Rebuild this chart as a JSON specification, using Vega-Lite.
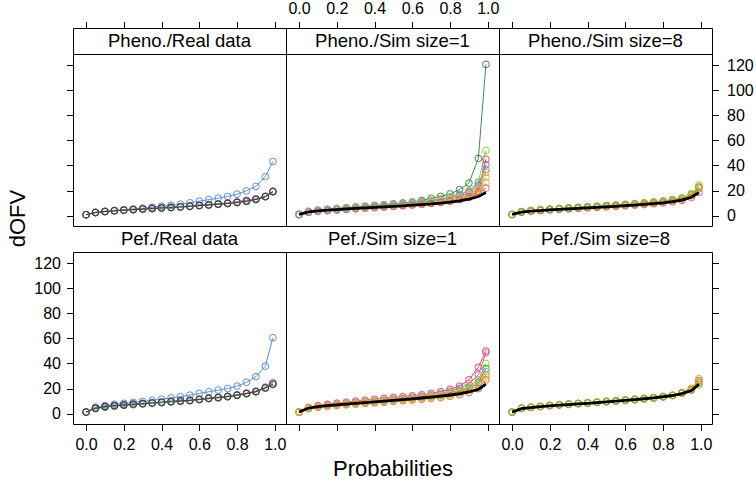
{
"$schema": "https://vega.github.io/schema/vega-lite/v6.json",
"padding": {"left": 6, "top": 0, "right": 0, "bottom": 0},
"background": "white",
"config": {
  "font": "Liberation Sans",
  "view": {"stroke": "black", "strokeWidth": 1},
  "axis": {"grid": false, "domain": false, "tickColor": "black", "tickSize": 6.5, "tickWidth": 1, "labelPadding": 6, "labelFontSize": 16, "labelColor": "black", "labelFont": "Liberation Sans", "labelFlush": false, "labelOverlap": false, "labelBound": false, "titleFont": "Liberation Sans", "titleFontSize": 22, "titleFontWeight": "normal", "titleColor": "black"}
},
"datasets": {
"pr": [
{"x":0,"a":0.8,"b":0.8,"c":0.8,"d":0.8},
{"x":0.05,"a":2.8,"b":2.6,"c":2.4,"d":2.5},
{"x":0.1,"a":3.6,"b":3.5,"c":3.2,"d":3.3},
{"x":0.15,"a":4.2,"b":4.1,"c":3.8,"d":3.9},
{"x":0.2,"a":4.7,"b":4.7,"c":4.3,"d":4.4},
{"x":0.25,"a":5.3,"b":5.2,"c":4.7,"d":4.8},
{"x":0.3,"a":6.0,"b":5.7,"c":5.2,"d":5.3},
{"x":0.35,"a":6.8,"b":6.1,"c":5.6,"d":5.7},
{"x":0.4,"a":7.5,"b":6.5,"c":6.0,"d":6.2},
{"x":0.45,"a":8.3,"b":6.9,"c":6.4,"d":6.6},
{"x":0.5,"a":9.2,"b":7.3,"c":6.8,"d":7.0},
{"x":0.55,"a":10.3,"b":7.8,"c":7.3,"d":7.5},
{"x":0.6,"a":11.6,"b":8.4,"c":7.9,"d":8.1},
{"x":0.65,"a":12.8,"b":8.9,"c":8.4,"d":8.6},
{"x":0.7,"a":14.0,"b":9.5,"c":9.0,"d":9.2},
{"x":0.75,"a":15.3,"b":10.2,"c":9.6,"d":9.8},
{"x":0.8,"a":17.2,"b":11.1,"c":10.4,"d":10.6},
{"x":0.85,"a":19.8,"b":12.4,"c":11.4,"d":11.6},
{"x":0.9,"a":23.3,"b":13.6,"c":12.8,"d":13.0},
{"x":0.95,"a":31.2,"b":15.6,"c":15.0,"d":15.2},
{"x":0.99,"a":43.2,"b":19.6,"c":19.0,"d":19.2}
],
"fr": [
{"x":0,"a":1.3,"b":1.3,"c":1.3,"d":1.3},
{"x":0.05,"a":5.3,"b":4.6,"c":4.0,"d":4.4},
{"x":0.1,"a":6.5,"b":5.8,"c":5.2,"d":5.6},
{"x":0.15,"a":7.6,"b":6.6,"c":6.0,"d":6.4},
{"x":0.2,"a":8.3,"b":7.2,"c":6.6,"d":7.0},
{"x":0.25,"a":9.0,"b":7.8,"c":7.2,"d":7.6},
{"x":0.3,"a":9.8,"b":8.3,"c":7.7,"d":8.1},
{"x":0.35,"a":10.7,"b":8.8,"c":8.2,"d":8.6},
{"x":0.4,"a":11.6,"b":9.3,"c":8.7,"d":9.1},
{"x":0.45,"a":12.6,"b":9.9,"c":9.3,"d":9.7},
{"x":0.5,"a":13.6,"b":10.4,"c":9.8,"d":10.2},
{"x":0.55,"a":14.8,"b":10.9,"c":10.3,"d":10.6},
{"x":0.6,"a":16.2,"b":11.7,"c":11.1,"d":11.4},
{"x":0.65,"a":17.5,"b":12.5,"c":11.9,"d":12.2},
{"x":0.7,"a":18.8,"b":13.2,"c":12.6,"d":12.9},
{"x":0.75,"a":20.0,"b":14.0,"c":13.4,"d":13.7},
{"x":0.8,"a":22.0,"b":15.1,"c":14.5,"d":14.8},
{"x":0.85,"a":25.0,"b":16.5,"c":15.8,"d":16.1},
{"x":0.9,"a":29.5,"b":18.0,"c":17.3,"d":17.6},
{"x":0.95,"a":37.9,"b":21.2,"c":20.3,"d":20.6},
{"x":0.99,"a":60.5,"b":24.8,"c":23.2,"d":23.6}
],
"p1": [
{"x":0,"k":1.0,"s1":1.0,"s2":1.0,"s3":0.8,"s4":1.0,"s5":1.0,"s6":1.0,"s7":0.9,"s8":0.9,"s9":1.0},
{"x":0.05,"k":3.0,"s1":3.5,"s2":3.3,"s3":2.6,"s4":3.1,"s5":3.0,"s6":3.2,"s7":3.0,"s8":2.8,"s9":3.1},
{"x":0.1,"k":3.8,"s1":4.5,"s2":4.2,"s3":3.4,"s4":4.0,"s5":3.9,"s6":4.1,"s7":3.8,"s8":3.6,"s9":4.0},
{"x":0.15,"k":4.4,"s1":5.2,"s2":4.9,"s3":4.0,"s4":4.6,"s5":4.5,"s6":4.7,"s7":4.4,"s8":4.2,"s9":4.6},
{"x":0.2,"k":4.9,"s1":5.8,"s2":5.5,"s3":4.5,"s4":5.2,"s5":5.1,"s6":5.3,"s7":4.9,"s8":4.7,"s9":5.2},
{"x":0.25,"k":5.4,"s1":6.4,"s2":6.1,"s3":5.0,"s4":5.7,"s5":5.6,"s6":5.8,"s7":5.4,"s8":5.2,"s9":5.7},
{"x":0.3,"k":5.9,"s1":7.0,"s2":6.6,"s3":5.5,"s4":6.2,"s5":6.1,"s6":6.3,"s7":5.9,"s8":5.7,"s9":6.2},
{"x":0.35,"k":6.3,"s1":7.6,"s2":7.2,"s3":6.0,"s4":6.7,"s5":6.6,"s6":6.8,"s7":6.4,"s8":6.1,"s9":6.8},
{"x":0.4,"k":6.7,"s1":8.2,"s2":7.8,"s3":6.4,"s4":7.3,"s5":7.1,"s6":7.4,"s7":6.9,"s8":6.6,"s9":7.4},
{"x":0.45,"k":7.1,"s1":8.8,"s2":8.4,"s3":6.9,"s4":7.9,"s5":7.6,"s6":7.9,"s7":7.4,"s8":7.1,"s9":8.0},
{"x":0.5,"k":7.5,"s1":9.5,"s2":9.0,"s3":7.4,"s4":8.5,"s5":8.2,"s6":8.5,"s7":7.9,"s8":7.6,"s9":8.6},
{"x":0.55,"k":7.9,"s1":10.2,"s2":9.7,"s3":7.9,"s4":9.1,"s5":8.8,"s6":9.1,"s7":8.5,"s8":8.1,"s9":9.3},
{"x":0.6,"k":8.4,"s1":11.0,"s2":10.5,"s3":8.5,"s4":9.8,"s5":9.5,"s6":9.8,"s7":9.1,"s8":8.7,"s9":10.0},
{"x":0.65,"k":8.9,"s1":12.2,"s2":11.3,"s3":9.1,"s4":10.6,"s5":10.2,"s6":10.5,"s7":9.8,"s8":9.3,"s9":10.8},
{"x":0.7,"k":9.4,"s1":13.8,"s2":12.3,"s3":9.8,"s4":11.5,"s5":11.1,"s6":11.4,"s7":10.6,"s8":10.0,"s9":11.8},
{"x":0.75,"k":10.1,"s1":15.4,"s2":13.5,"s3":10.6,"s4":12.6,"s5":12.1,"s6":12.4,"s7":11.5,"s8":10.8,"s9":13.0},
{"x":0.8,"k":10.8,"s1":17.3,"s2":15.0,"s3":11.6,"s4":14.0,"s5":13.4,"s6":13.7,"s7":12.6,"s8":11.7,"s9":14.6},
{"x":0.85,"k":11.8,"s1":20.8,"s2":17.0,"s3":13.0,"s4":15.8,"s5":15.0,"s6":15.2,"s7":14.0,"s8":12.8,"s9":16.8},
{"x":0.9,"k":13.2,"s1":26.0,"s2":20.0,"s3":15.0,"s4":18.5,"s5":17.5,"s6":17.2,"s7":16.0,"s8":14.5,"s9":19.5},
{"x":0.95,"k":15.3,"s1":45.6,"s2":27.0,"s3":19.0,"s4":24.0,"s5":22.0,"s6":21.0,"s7":20.0,"s8":17.5,"s9":26.0},
{"x":0.99,"k":18.5,"s1":120.5,"s2":52.0,"s3":45.0,"s4":40.5,"s5":34.5,"s6":30.6,"s7":26.5,"s8":22.0,"s9":37.0}
],
"p8": [
{"x":0,"k":1.0,"s1":1.0,"s2":1.0,"s3":1.0,"s4":0.9,"s5":1.0},
{"x":0.05,"k":2.8,"s1":3.3,"s2":3.1,"s3":3.0,"s4":2.7,"s5":3.2},
{"x":0.1,"k":3.6,"s1":4.2,"s2":4.0,"s3":3.9,"s4":3.5,"s5":4.1},
{"x":0.15,"k":4.1,"s1":4.8,"s2":4.6,"s3":4.4,"s4":4.0,"s5":4.7},
{"x":0.2,"k":4.6,"s1":5.3,"s2":5.1,"s3":4.9,"s4":4.5,"s5":5.2},
{"x":0.25,"k":5.1,"s1":5.8,"s2":5.6,"s3":5.4,"s4":5.0,"s5":5.7},
{"x":0.3,"k":5.5,"s1":6.3,"s2":6.0,"s3":5.8,"s4":5.4,"s5":6.2},
{"x":0.35,"k":5.9,"s1":6.7,"s2":6.5,"s3":6.2,"s4":5.8,"s5":6.6},
{"x":0.4,"k":6.3,"s1":7.2,"s2":6.9,"s3":6.7,"s4":6.2,"s5":7.1},
{"x":0.45,"k":6.7,"s1":7.6,"s2":7.3,"s3":7.1,"s4":6.6,"s5":7.5},
{"x":0.5,"k":7.1,"s1":8.1,"s2":7.8,"s3":7.5,"s4":7.0,"s5":8.0},
{"x":0.55,"k":7.5,"s1":8.6,"s2":8.3,"s3":8.0,"s4":7.4,"s5":8.4},
{"x":0.6,"k":8.0,"s1":9.1,"s2":8.8,"s3":8.5,"s4":7.9,"s5":8.9},
{"x":0.65,"k":8.5,"s1":9.7,"s2":9.3,"s3":9.0,"s4":8.4,"s5":9.5},
{"x":0.7,"k":9.0,"s1":10.3,"s2":9.9,"s3":9.6,"s4":8.9,"s5":10.1},
{"x":0.75,"k":9.6,"s1":11.0,"s2":10.6,"s3":10.2,"s4":9.5,"s5":10.8},
{"x":0.8,"k":10.3,"s1":11.8,"s2":11.3,"s3":10.9,"s4":10.2,"s5":11.6},
{"x":0.85,"k":11.2,"s1":12.8,"s2":12.3,"s3":11.9,"s4":11.0,"s5":12.6},
{"x":0.9,"k":12.4,"s1":14.2,"s2":13.6,"s3":13.2,"s4":12.2,"s5":14.0},
{"x":0.95,"k":14.7,"s1":17.5,"s2":16.5,"s3":16.0,"s4":14.5,"s5":17.0},
{"x":0.99,"k":18.5,"s1":24.5,"s2":23.0,"s3":21.5,"s4":18.5,"s5":22.5}
],
"f1": [
{"x":0,"k":1.3,"s1":1.5,"s2":1.3,"s3":1.2,"s4":1.2,"s5":1.3,"s6":1.2,"s7":1.1,"s8":1.3},
{"x":0.05,"k":4.5,"s1":5.0,"s2":4.8,"s3":4.5,"s4":4.4,"s5":4.6,"s6":4.3,"s7":4.0,"s8":4.4},
{"x":0.1,"k":5.6,"s1":6.5,"s2":6.0,"s3":5.7,"s4":5.6,"s5":5.7,"s6":5.4,"s7":5.1,"s8":5.5},
{"x":0.15,"k":6.4,"s1":7.5,"s2":6.9,"s3":6.5,"s4":6.4,"s5":6.5,"s6":6.2,"s7":5.9,"s8":6.3},
{"x":0.2,"k":7.1,"s1":8.4,"s2":7.6,"s3":7.2,"s4":7.1,"s5":7.2,"s6":6.9,"s7":6.5,"s8":7.0},
{"x":0.25,"k":7.7,"s1":9.2,"s2":8.3,"s3":7.9,"s4":7.7,"s5":7.8,"s6":7.5,"s7":7.1,"s8":7.6},
{"x":0.3,"k":8.3,"s1":10.0,"s2":8.9,"s3":8.5,"s4":8.3,"s5":8.4,"s6":8.1,"s7":7.6,"s8":8.2},
{"x":0.35,"k":8.9,"s1":10.8,"s2":9.6,"s3":9.1,"s4":8.9,"s5":9.0,"s6":8.7,"s7":8.2,"s8":8.8},
{"x":0.4,"k":9.5,"s1":11.5,"s2":10.2,"s3":9.8,"s4":9.6,"s5":9.6,"s6":9.3,"s7":8.7,"s8":9.4},
{"x":0.45,"k":10.1,"s1":12.2,"s2":10.9,"s3":10.4,"s4":10.2,"s5":10.2,"s6":9.9,"s7":9.2,"s8":10.0},
{"x":0.5,"k":10.6,"s1":12.9,"s2":11.6,"s3":11.1,"s4":10.8,"s5":10.9,"s6":10.5,"s7":9.8,"s8":10.6},
{"x":0.55,"k":11.2,"s1":13.6,"s2":12.3,"s3":11.8,"s4":11.5,"s5":11.5,"s6":11.1,"s7":10.3,"s8":11.2},
{"x":0.6,"k":11.8,"s1":14.3,"s2":13.1,"s3":12.5,"s4":12.2,"s5":12.2,"s6":11.8,"s7":10.9,"s8":11.9},
{"x":0.65,"k":12.5,"s1":15.1,"s2":14.0,"s3":13.3,"s4":13.0,"s5":13.0,"s6":12.5,"s7":11.5,"s8":12.6},
{"x":0.7,"k":13.2,"s1":16.2,"s2":15.0,"s3":14.2,"s4":13.9,"s5":13.8,"s6":13.3,"s7":12.2,"s8":13.4},
{"x":0.75,"k":14.0,"s1":17.6,"s2":16.3,"s3":15.3,"s4":14.9,"s5":14.8,"s6":14.2,"s7":13.0,"s8":14.3},
{"x":0.8,"k":14.9,"s1":19.5,"s2":18.0,"s3":16.7,"s4":16.2,"s5":16.0,"s6":15.3,"s7":13.9,"s8":15.5},
{"x":0.85,"k":15.9,"s1":22.0,"s2":20.3,"s3":18.6,"s4":18.0,"s5":17.6,"s6":16.8,"s7":15.1,"s8":17.0},
{"x":0.9,"k":17.3,"s1":27.0,"s2":24.0,"s3":21.5,"s4":20.5,"s5":20.0,"s6":19.0,"s7":16.9,"s8":19.3},
{"x":0.95,"k":19.3,"s1":37.0,"s2":31.0,"s3":27.0,"s4":25.0,"s5":24.5,"s6":23.0,"s7":20.0,"s8":23.5},
{"x":0.99,"k":23.5,"s1":50.0,"s2":48.5,"s3":40.0,"s4":36.0,"s5":33.5,"s6":30.8,"s7":27.0,"s8":29.0}
],
"f8": [
{"x":0,"k":1.3,"s1":1.3,"s2":1.3,"s3":1.3,"s4":1.2,"s5":1.2},
{"x":0.05,"k":4.0,"s1":4.5,"s2":4.3,"s3":4.4,"s4":4.1,"s5":4.2},
{"x":0.1,"k":4.9,"s1":5.3,"s2":5.1,"s3":5.2,"s4":4.9,"s5":5.0},
{"x":0.15,"k":5.6,"s1":6.0,"s2":5.8,"s3":5.9,"s4":5.6,"s5":5.7},
{"x":0.2,"k":6.2,"s1":6.8,"s2":6.5,"s3":6.6,"s4":6.3,"s5":6.4},
{"x":0.25,"k":6.8,"s1":7.4,"s2":7.1,"s3":7.2,"s4":6.9,"s5":7.0},
{"x":0.3,"k":7.3,"s1":7.9,"s2":7.7,"s3":7.7,"s4":7.4,"s5":7.5},
{"x":0.35,"k":7.8,"s1":8.3,"s2":8.2,"s3":8.2,"s4":7.9,"s5":8.0},
{"x":0.4,"k":8.3,"s1":8.8,"s2":8.7,"s3":8.7,"s4":8.4,"s5":8.5},
{"x":0.45,"k":8.9,"s1":9.4,"s2":9.2,"s3":9.2,"s4":8.9,"s5":9.0},
{"x":0.5,"k":9.5,"s1":10.0,"s2":9.8,"s3":9.7,"s4":9.4,"s5":9.5},
{"x":0.55,"k":10.0,"s1":10.5,"s2":10.3,"s3":10.2,"s4":9.9,"s5":10.0},
{"x":0.6,"k":10.6,"s1":11.2,"s2":10.9,"s3":10.8,"s4":10.5,"s5":10.6},
{"x":0.65,"k":11.2,"s1":11.8,"s2":11.5,"s3":11.4,"s4":11.1,"s5":11.2},
{"x":0.7,"k":11.9,"s1":12.4,"s2":12.2,"s3":12.0,"s4":11.7,"s5":11.8},
{"x":0.75,"k":12.6,"s1":13.0,"s2":12.8,"s3":12.7,"s4":12.4,"s5":12.5},
{"x":0.8,"k":13.5,"s1":13.8,"s2":13.7,"s3":13.5,"s4":13.3,"s5":13.4},
{"x":0.85,"k":14.5,"s1":14.8,"s2":14.8,"s3":14.5,"s4":14.4,"s5":14.5},
{"x":0.9,"k":16.0,"s1":16.5,"s2":16.9,"s3":16.3,"s4":16.6,"s5":16.2},
{"x":0.95,"k":18.4,"s1":19.5,"s2":20.3,"s3":19.0,"s4":19.0,"s5":18.8},
{"x":0.99,"k":23.4,"s1":25.5,"s2":28.0,"s3":24.5,"s4":26.5,"s5":23.0}
]
},
"columns": 3,
"spacing": 0,
"bounds": "flush",
"resolve": {"scale": {"x": "independent", "y": "independent", "color": "independent"}, "axis": {"x": "independent", "y": "independent"}},
"concat": [
{"width": 213, "height": 26, "data": {"values": [{"lab": "Pheno./Real data"}]},
 "mark": {"type": "text", "fontSize": 18.5, "baseline": "middle", "align": "center", "color": "black"},
 "encoding": {"text": {"field": "lab", "type": "nominal"},
  "x": {"datum": 0.495, "type": "quantitative", "scale": {"domain": [-0.0693, 1.0593], "nice": false, "zero": false}, "axis": {"orient": "top", "values": [0, 0.2, 0.4, 0.6, 0.8, 1], "labels": false, "title": null}}}},
{"width": 213, "height": 26, "data": {"values": [{"lab": "Pheno./Sim size=1"}]},
 "mark": {"type": "text", "fontSize": 18.5, "baseline": "middle", "align": "center", "color": "black"},
 "encoding": {"text": {"field": "lab", "type": "nominal"},
  "x": {"datum": 0.495, "type": "quantitative", "scale": {"domain": [-0.0693, 1.0593], "nice": false, "zero": false}, "axis": {"orient": "top", "values": [0, 0.2, 0.4, 0.6, 0.8, 1], "format": ".1f", "labelPadding": 5, "title": null}}}},
{"width": 213, "height": 26, "data": {"values": [{"lab": "Pheno./Sim size=8"}]},
 "mark": {"type": "text", "fontSize": 18.5, "baseline": "middle", "align": "center", "color": "black"},
 "encoding": {"text": {"field": "lab", "type": "nominal"},
  "x": {"datum": 0.495, "type": "quantitative", "scale": {"domain": [-0.0693, 1.0593], "nice": false, "zero": false}, "axis": {"orient": "top", "values": [0, 0.2, 0.4, 0.6, 0.8, 1], "labels": false, "title": null}}}},
{"width": 213, "height": 172, "data": {"name": "pr"},
 "transform": [{"fold": ["a", "b", "c", "d"], "as": ["s", "v"]}],
 "encoding": {
  "x": {"field": "x", "type": "quantitative", "scale": {"domain": [-0.0693, 1.0593], "nice": false, "zero": false}, "axis": null},
  "y": {"field": "v", "type": "quantitative", "scale": {"domain": [-8.2, 128.8], "nice": false, "zero": false}, "axis": {"orient": "left", "values": [0, 20, 40, 60, 80, 100, 120], "labels": false, "title": null}},
  "color": {"field": "s", "type": "nominal", "scale": {"domain": ["a", "b", "c", "d"], "range": ["#5b8fd8", "#c8609e", "#3f8a48", "#3a3a3a"]}, "legend": null}},
 "layer": [{"mark": {"type": "line", "strokeWidth": 1}}, {"mark": {"type": "point", "filled": false, "size": 45, "strokeWidth": 1, "opacity": 1}}]},
{"width": 213, "height": 172, "data": {"name": "p1"},
 "encoding": {"x": {"field": "x", "type": "quantitative", "scale": {"domain": [-0.0693, 1.0593], "nice": false, "zero": false}, "axis": null}},
 "layer": [
  {"transform": [{"fold": ["s1", "s2", "s3", "s4", "s5", "s6", "s7", "s8", "s9"], "as": ["s", "v"]}],
   "encoding": {"y": {"field": "v", "type": "quantitative", "scale": {"domain": [-8.2, 128.8], "nice": false, "zero": false}, "axis": null},
    "color": {"field": "s", "type": "nominal", "scale": {"domain": ["s1", "s2", "s3", "s4", "s5", "s6", "s7", "s8", "s9"], "range": ["#3c8c50", "#8fd03c", "#e0504c", "#8a68b8", "#f0a030", "#d8c23a", "#e8b048", "#e8685a", "#78a2d8"]}, "legend": null}},
   "layer": [{"mark": {"type": "line", "strokeWidth": 1}}, {"mark": {"type": "point", "filled": false, "size": 45, "strokeWidth": 1, "opacity": 1}}]},
  {"mark": {"type": "line", "color": "black", "strokeWidth": 2.8}, "encoding": {"y": {"field": "k", "type": "quantitative", "scale": {"domain": [-8.2, 128.8], "nice": false, "zero": false}, "axis": null}}}
 ]},
{"width": 213, "height": 172, "data": {"name": "p8"},
 "encoding": {"x": {"field": "x", "type": "quantitative", "scale": {"domain": [-0.0693, 1.0593], "nice": false, "zero": false}, "axis": null}},
 "layer": [
  {"transform": [{"fold": ["s1", "s2", "s3", "s4", "s5"], "as": ["s", "v"]}],
   "encoding": {"y": {"field": "v", "type": "quantitative", "scale": {"domain": [-8.2, 128.8], "nice": false, "zero": false}, "axis": {"orient": "right", "values": [0, 20, 40, 60, 80, 100, 120], "labelPadding": 8, "title": null}},
    "color": {"field": "s", "type": "nominal", "scale": {"domain": ["s1", "s2", "s3", "s4", "s5"], "range": ["#b5c832", "#a0a03a", "#e9a23a", "#e06450", "#78b848"]}, "legend": null}},
   "layer": [{"mark": {"type": "line", "strokeWidth": 1}}, {"mark": {"type": "point", "filled": false, "size": 45, "strokeWidth": 1, "opacity": 1}}]},
  {"mark": {"type": "line", "color": "black", "strokeWidth": 2.8}, "encoding": {"y": {"field": "k", "type": "quantitative", "scale": {"domain": [-8.2, 128.8], "nice": false, "zero": false}, "axis": {"orient": "right", "values": [0, 20, 40, 60, 80, 100, 120], "labelPadding": 8, "title": null}}}}
 ]},
{"width": 213, "height": 26, "data": {"values": [{"lab": "Pef./Real data"}]},
 "mark": {"type": "text", "fontSize": 18.5, "baseline": "middle", "align": "center", "color": "black"},
 "encoding": {"text": {"field": "lab", "type": "nominal"}}},
{"width": 213, "height": 26, "data": {"values": [{"lab": "Pef./Sim size=1"}]},
 "mark": {"type": "text", "fontSize": 18.5, "baseline": "middle", "align": "center", "color": "black"},
 "encoding": {"text": {"field": "lab", "type": "nominal"}}},
{"width": 213, "height": 26, "data": {"values": [{"lab": "Pef./Sim size=8"}]},
 "mark": {"type": "text", "fontSize": 18.5, "baseline": "middle", "align": "center", "color": "black"},
 "encoding": {"text": {"field": "lab", "type": "nominal"}}},
{"width": 213, "height": 172, "data": {"name": "fr"},
 "transform": [{"fold": ["a", "b", "c", "d"], "as": ["s", "v"]}],
 "encoding": {
  "x": {"field": "x", "type": "quantitative", "scale": {"domain": [-0.0693, 1.0593], "nice": false, "zero": false}, "axis": {"orient": "bottom", "values": [0, 0.2, 0.4, 0.6, 0.8, 1], "format": ".1f", "title": null}},
  "y": {"field": "v", "type": "quantitative", "scale": {"domain": [-8.2, 128.8], "nice": false, "zero": false}, "axis": {"orient": "left", "values": [0, 20, 40, 60, 80, 100, 120], "title": "dOFV", "titleY": -34, "titlePadding": 4}},
  "color": {"field": "s", "type": "nominal", "scale": {"domain": ["a", "b", "c", "d"], "range": ["#5b8fd8", "#c8609e", "#3f8a48", "#3a3a3a"]}, "legend": null}},
 "layer": [{"mark": {"type": "line", "strokeWidth": 1}}, {"mark": {"type": "point", "filled": false, "size": 45, "strokeWidth": 1, "opacity": 1}}]},
{"width": 213, "height": 172, "data": {"name": "f1"},
 "encoding": {"x": {"field": "x", "type": "quantitative", "scale": {"domain": [-0.0693, 1.0593], "nice": false, "zero": false}, "axis": {"orient": "bottom", "values": [0, 0.2, 0.4, 0.6, 0.8, 1], "labels": false, "title": "Probabilities", "titlePadding": 27}}},
 "layer": [
  {"transform": [{"fold": ["s1", "s2", "s3", "s4", "s5", "s6", "s7", "s8"], "as": ["s", "v"]}],
   "encoding": {"y": {"field": "v", "type": "quantitative", "scale": {"domain": [-8.2, 128.8], "nice": false, "zero": false}, "axis": null},
    "color": {"field": "s", "type": "nominal", "scale": {"domain": ["s1", "s2", "s3", "s4", "s5", "s6", "s7", "s8"], "range": ["#d9506a", "#d468b8", "#8ad040", "#4c9c58", "#78a2d8", "#f0a030", "#ec6a32", "#d8c23a"]}, "legend": null}},
   "layer": [{"mark": {"type": "line", "strokeWidth": 1}}, {"mark": {"type": "point", "filled": false, "size": 45, "strokeWidth": 1, "opacity": 1}}]},
  {"mark": {"type": "line", "color": "black", "strokeWidth": 2.8}, "encoding": {"y": {"field": "k", "type": "quantitative", "scale": {"domain": [-8.2, 128.8], "nice": false, "zero": false}, "axis": null}}}
 ]},
{"width": 213, "height": 172, "data": {"name": "f8"},
 "encoding": {"x": {"field": "x", "type": "quantitative", "scale": {"domain": [-0.0693, 1.0593], "nice": false, "zero": false}, "axis": {"orient": "bottom", "values": [0, 0.2, 0.4, 0.6, 0.8, 1], "format": ".1f", "title": null}}},
 "layer": [
  {"transform": [{"fold": ["s1", "s2", "s3", "s4", "s5"], "as": ["s", "v"]}],
   "encoding": {"y": {"field": "v", "type": "quantitative", "scale": {"domain": [-8.2, 128.8], "nice": false, "zero": false}, "axis": {"orient": "right", "values": [0, 20, 40, 60, 80, 100, 120], "labels": false, "title": null}},
    "color": {"field": "s", "type": "nominal", "scale": {"domain": ["s1", "s2", "s3", "s4", "s5"], "range": ["#d2c234", "#e9a040", "#a8a838", "#e07060", "#88b840"]}, "legend": null}},
   "layer": [{"mark": {"type": "line", "strokeWidth": 1}}, {"mark": {"type": "point", "filled": false, "size": 45, "strokeWidth": 1, "opacity": 1}}]},
  {"mark": {"type": "line", "color": "black", "strokeWidth": 2.8}, "encoding": {"y": {"field": "k", "type": "quantitative", "scale": {"domain": [-8.2, 128.8], "nice": false, "zero": false}, "axis": {"orient": "right", "values": [0, 20, 40, 60, 80, 100, 120], "labels": false, "title": null}}}}
 ]}
]
}
